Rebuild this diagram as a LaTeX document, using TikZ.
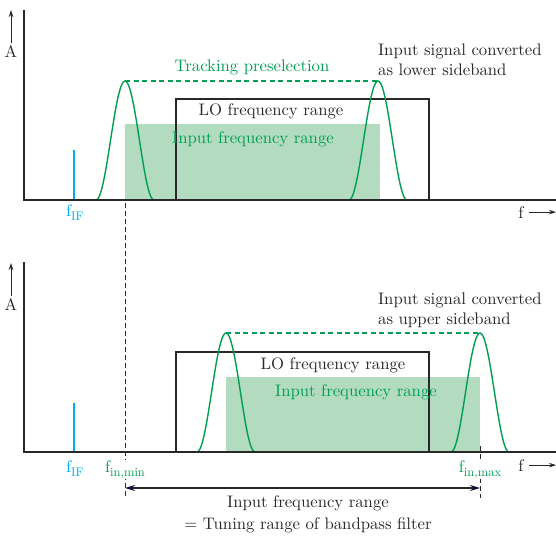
\documentclass[tikz,border=0pt]{standalone}
\usepackage{fontspec}
\setmainfont{lmroman10-regular}[Extension=.otf]
\usetikzlibrary{arrows.meta}
\definecolor{rsgreen}{RGB}{0,158,84}
\definecolor{rsfill}{RGB}{178,219,191}
\definecolor{rscyan}{RGB}{0,174,239}
\definecolor{rsgray}{RGB}{40,40,40}
\definecolor{rsnavy}{RGB}{10,20,60}
\newcommand{\fsub}[1]{f\raisebox{-4.5pt}{\fontsize{12.5}{14}\selectfont #1}}

\begin{document}
\begin{tikzpicture}[x=1pt,y=-1pt,
  every node/.style={inner sep=0pt,font=\fontsize{16.7}{20}\selectfont,text=rsgray},
  axis/.style={rsgray,line width=1.4pt},
  axisarrow/.style={rsgray,line width=1pt,-{Stealth[length=7pt,width=4.5pt]}},
  lobox/.style={rsgray,line width=1.3pt},
  inband/.style={fill=rsfill},
  filtercurve/.style={rsgreen,line width=1.4pt,smooth},
  trackline/.style={rsgreen,line width=1.2pt,dash pattern=on 5pt off 3.5pt},
  ifline/.style={rscyan,line width=2pt},
  limitline/.style={rsgray,line width=1pt,dash pattern=on 5pt off 3pt},
  span/.style={rsgray,line width=1.4pt,
    {Stealth[length=10pt,width=6pt,color=rsnavy]}-{Stealth[length=10pt,width=6pt,color=rsnavy]}},
  greentext/.style={text=rsgreen},
  freqlabel/.style={anchor=base,fill=white,inner xsep=1pt}]
\useasboundingbox (0,0) rectangle (556,535);

% frequency bands
\fill[inband] (125,124) rectangle (380,200);
\fill[inband] (226,377) rectangle (480,452);
\draw[lobox] (176,99) rectangle (429,200);
\draw[lobox] (176,352) rectangle (429,452);

% tracking preselection filters
\foreach \c/\b in {125/200,378/200,226/452,480/452}
  \draw[filtercurve] plot[domain=-29:29,samples=41]
    ({\c+\x},{\b-119*(0.5+0.5*cos(180*\x/29))});
\draw[trackline] (125,81) -- (378,81);
\draw[trackline] (226,333) -- (480,333);

% IF lines
\draw[ifline] (74,150) -- (74,200);
\draw[ifline] (74,403) -- (74,452);

% axes
\draw[axis] (24,10) -- (24,200) -- (556,200);
\draw[axis] (24,262) -- (24,452) -- (556,452);

% tuning limits
\coordinate (fmin) at (125,488);
\coordinate (fmax) at (480,488);
\draw[limitline] (125,203) -- (125,498);
\draw[limitline] (480,446) -- (480,498);
\draw[span] (fmin) -- (fmax);

% axis labels
\node (atop) [anchor=base] at (11,57) {A};
\node (abot) [anchor=base] at (11,310) {A};
\node (ftop) [anchor=base] at (521,218) {f};
\node (fbot) [anchor=base] at (521,471) {f};
\coordinate (atopend) at (11,10);
\coordinate (abotend) at (11,263);
\coordinate (rightend) at (556,0);
\draw[axisarrow] (atop) ++(0,-8) -- (atopend);
\draw[axisarrow] (abot) ++(0,-8) -- (abotend);
\draw[axisarrow] ([xshift=5pt]ftop.east) -- (ftop.east -| rightend);
\draw[axisarrow] ([xshift=5pt]fbot.east) -- (fbot.east -| rightend);

% texts, upper spectrum
\node (tracktext) [greentext,anchor=base] at (252,71) {Tracking preselection};
\node (lotop) [anchor=base] at (271,115) {LO frequency range};
\node (intop) [greentext,anchor=base] at (253,143) {Input frequency range};
\node (lsbtext) [anchor=north west,align=left] at (378,44)
  {Input signal converted\\as lower sideband};
\node (iftop) [anchor=base,text=rscyan] at (75,216) {\fsub{IF}};

% texts, lower spectrum
\node (lobot) [anchor=base] at (333,369) {LO frequency range};
\node (inbot) [greentext,anchor=base] at (356,396) {Input frequency range};
\node (usbtext) [anchor=north west,align=left] at (378,293)
  {Input signal converted\\as upper sideband};
\node (ifbot) [anchor=base,text=rscyan] at (75,472) {\fsub{IF}};
\node (fminl) [freqlabel,greentext] at (125,472) {\fsub{in,min}};
\node (fmaxl) [freqlabel,greentext] at (480,472) {\fsub{in,max}};
\node (spantext) [anchor=north,align=center] at (308,496)
  {Input frequency range\\[2pt]= Tuning range of bandpass filter};
\end{tikzpicture}
\end{document}
